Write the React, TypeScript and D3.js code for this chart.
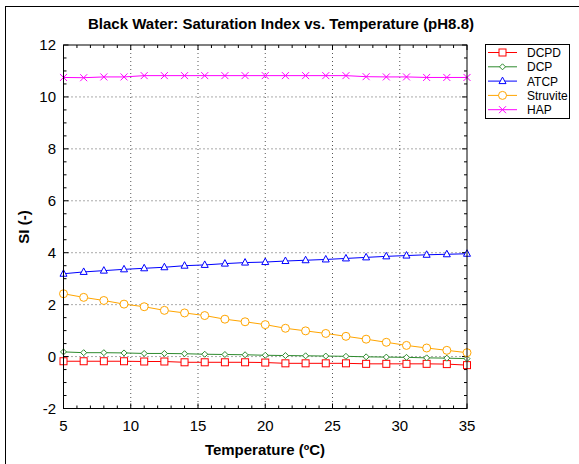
import * as d3 from "d3";
import React from "react";

const WIDTH = 579;
const HEIGHT = 464;

const temperatures = d3.range(21).map((i) => 5 + i * 1.5);

const dcpd = [
  -0.18, -0.18, -0.18, -0.18, -0.19, -0.19, -0.22, -0.22, -0.22, -0.22, -0.23,
  -0.26, -0.26, -0.26, -0.26, -0.28, -0.28, -0.28, -0.28, -0.29, -0.33,
];
const dcp = [
  0.18, 0.15, 0.15, 0.14, 0.12, 0.12, 0.11, 0.09, 0.08, 0.07, 0.05, 0.04, 0.03,
  0.02, 0.01, -0.01, -0.02, -0.03, -0.05, -0.06, -0.08,
];
const atcp = [
  3.19, 3.26, 3.31, 3.36, 3.4, 3.44, 3.5, 3.53, 3.58, 3.62, 3.64, 3.68, 3.71,
  3.74, 3.78, 3.82, 3.86, 3.89, 3.92, 3.94, 3.96,
];
const struvite = [
  2.42, 2.28, 2.16, 2.02, 1.92, 1.78, 1.68, 1.58, 1.44, 1.34, 1.23, 1.09, 0.99,
  0.89, 0.78, 0.67, 0.55, 0.43, 0.33, 0.24, 0.15,
];
const hap = [
  10.75, 10.74, 10.77, 10.77, 10.82, 10.82, 10.82, 10.82, 10.82, 10.82, 10.82,
  10.82, 10.82, 10.82, 10.82, 10.78, 10.77, 10.77, 10.75, 10.75, 10.75,
];

const seriesNames = ["DCPD", "DCP", "ATCP", "Struvite", "HAP"];
const seriesColors = ["#ff0000", "#2e8b2e", "#0000ff", "#ffa500", "#ff00ff"];
const seriesMarkers = ["square", "diamond", "triangle", "circle", "cross"];
const seriesValues = [dcpd, dcp, atcp, struvite, hap];

const xTicks = [5, 10, 15, 20, 25, 30, 35];
const yTicks = [-2, 0, 2, 4, 6, 8, 10, 12];

const plot = { left: 63.5, right: 467, top: 45, bottom: 408.5 };

const Marker = ({ kind, x, y, color }) => {
  const common = { fill: "white", stroke: color, strokeWidth: 1 };
  if (kind === "square")
    return <rect x={x - 3.5} y={y - 3.5} width={7} height={7} {...common} />;
  if (kind === "diamond")
    return (
      <path
        d={`M${x},${y - 3}L${x + 3},${y}L${x},${y + 3}L${x - 3},${y}Z`}
        {...common}
      />
    );
  if (kind === "triangle")
    return (
      <path
        d={`M${x},${y - 4}L${x + 3.5},${y + 2.5}L${x - 3.5},${y + 2.5}Z`}
        {...common}
      />
    );
  if (kind === "circle") return <circle cx={x} cy={y} r={4} {...common} />;
  return (
    <path
      d={`M${x - 3.5},${y - 3.5}L${x + 3.5},${y + 3.5}M${x - 3.5},${y + 3.5}L${x + 3.5},${y - 3.5}`}
      stroke={color}
      strokeWidth={1}
      fill="none"
    />
  );
};

export default function App() {
  const x = d3.scaleLinear().domain([5, 35]).range([plot.left, plot.right]);
  const y = d3.scaleLinear().domain([-2, 12]).range([plot.bottom, plot.top]);

  const line = d3
    .line<number>()
    .x((_, i) => x(temperatures[i]))
    .y((d) => y(d));

  const xMinor = d3.range(5, 36, 1);
  const yMinor = d3.range(-2, 12.01, 0.5);

  return (
    <svg
      width={WIDTH}
      height={HEIGHT}
      style={{ position: "absolute", left: 0, top: 0, background: "white" }}
      fontFamily="'Liberation Sans', Arial, sans-serif"
    >
      {/* figure frame (left and top only) */}
      <line x1={5.5} y1={6} x2={5.5} y2={HEIGHT} stroke="#000" />
      <line x1={5} y1={6.5} x2={WIDTH} y2={6.5} stroke="#000" />

      <text
        x={281}
        y={29}
        textAnchor="middle"
        fontSize={15}
        fontWeight="bold"
      >
        Black Water: Saturation Index vs. Temperature (pH8.8)
      </text>

      {/* grid */}
      {xTicks.slice(1, -1).map((t) => (
        <line
          key={"gx" + t}
          x1={x(t)}
          x2={x(t)}
          y1={plot.top}
          y2={plot.bottom}
          stroke="#555"
          strokeDasharray="1,3"
        />
      ))}
      {yTicks.slice(1, -1).map((t) => (
        <line
          key={"gy" + t}
          x1={plot.left}
          x2={plot.right}
          y1={y(t)}
          y2={y(t)}
          stroke="#555"
          strokeDasharray="1,3"
        />
      ))}

      {/* ticks */}
      {xMinor.map((t) => {
        const len = t % 5 === 0 ? 5 : 3;
        return (
          <g key={"tx" + t} stroke="#000">
            <line x1={x(t)} x2={x(t)} y1={plot.bottom} y2={plot.bottom - len} />
            <line x1={x(t)} x2={x(t)} y1={plot.top} y2={plot.top + len} />
          </g>
        );
      })}
      {yMinor.map((t) => {
        const len = t % 2 === 0 ? 5 : 3;
        return (
          <g key={"ty" + t} stroke="#000">
            <line x1={plot.left} x2={plot.left + len} y1={y(t)} y2={y(t)} />
            <line x1={plot.right} x2={plot.right - len} y1={y(t)} y2={y(t)} />
          </g>
        );
      })}

      {/* series */}
      {seriesValues.map((vals, s) => (
        <g key={seriesNames[s]}>
          <path d={line(vals) || ""} fill="none" stroke={seriesColors[s]} strokeWidth={1} />
          {vals.map((v, i) => (
            <Marker
              key={i}
              kind={seriesMarkers[s]}
              x={x(temperatures[i])}
              y={y(v)}
              color={seriesColors[s]}
            />
          ))}
        </g>
      ))}

      {/* axes box */}
      <rect
        x={plot.left}
        y={plot.top}
        width={plot.right - plot.left}
        height={plot.bottom - plot.top}
        fill="none"
        stroke="#000"
        strokeWidth={1}
      />

      {/* tick labels */}
      {xTicks.map((t) => (
        <text key={"lx" + t} x={x(t)} y={431} textAnchor="middle" fontSize={15}>
          {t}
        </text>
      ))}
      {yTicks.map((t) => (
        <text key={"ly" + t} x={56} y={y(t) + 5} textAnchor="end" fontSize={15}>
          {t}
        </text>
      ))}

      <text x={265} y={455} textAnchor="middle" fontSize={15} fontWeight="bold">
        Temperature (ºC)
      </text>
      <text
        transform="translate(29,227) rotate(-90)"
        textAnchor="middle"
        fontSize={15}
        fontWeight="bold"
      >
        SI (-)
      </text>

      {/* legend */}
      <g>
        <rect x={485.5} y={44.5} width={84} height={74} fill="white" stroke="#000" />
        {seriesNames.map((name, s) => {
          const ly = 52.5 + s * 14.3;
          return (
            <g key={"lg" + name}>
              <line x1={488} x2={517} y1={ly} y2={ly} stroke={seriesColors[s]} />
              <Marker kind={seriesMarkers[s]} x={502.5} y={ly} color={seriesColors[s]} />
              <text x={527} y={ly + 4.5} fontSize={12}>
                {name}
              </text>
            </g>
          );
        })}
      </g>
    </svg>
  );
}
